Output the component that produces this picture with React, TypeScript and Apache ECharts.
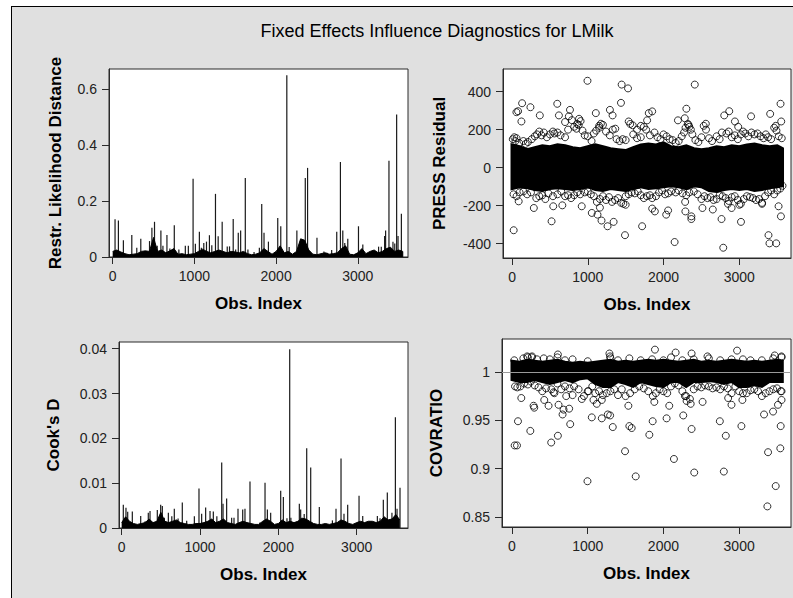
import React, { useEffect, useRef } from "react";
import * as echarts from "echarts";

const TITLE = "Fixed Effects Influence Diagnostics for LMilk";
const X_TICKS = [0, 1000, 2000, 3000];

// Restr. Likelihood Distance: prominent needles
const rldX = [29,70,131,234,295,344,390,451,480,512,545,590,615,664,700,754,810,889,926,984,1012,1061,1085,1115,1148,1184,1213,1258,1291,1340,1402,1430,1475,1505,1537,1566,1623,1655,1730,1795,1824,1852,1906,2020,2057,2131,2160,2254,2305,2357,2385,2500,2585,2622,2680,2742,2787,2816,2840,2877,3008,3061,3254,3287,3328,3340,3381,3430,3452,3475,3492,3533,3549];
const rldY = [0.135,0.131,0.06,0.079,0.033,0.065,0.02,0.057,0.105,0.126,0.04,0.095,0.04,0.079,0.03,0.114,0.027,0.04,0.04,0.28,0.047,0.09,0.033,0.05,0.055,0.078,0.042,0.226,0.074,0.126,0.038,0.038,0.136,0.027,0.087,0.095,0.283,0.027,0.018,0.033,0.19,0.087,0.055,0.14,0.11,0.651,0.036,0.095,0.063,0.283,0.319,0.069,0.02,0.015,0.025,0.09,0.34,0.095,0.05,0.065,0.11,0.045,0.037,0.037,0.075,0.095,0.345,0.055,0.048,0.51,0.075,0.155,0.02];
// dense low band, read every 50 observations
const baseX = [0,50,100,150,200,250,300,350,400,450,500,550,600,650,700,750,800,850,900,950,1000,1050,1100,1150,1200,1250,1300,1350,1400,1450,1500,1550,1600,1650,1700,1750,1800,1850,1900,1950,2000,2050,2100,2150,2200,2250,2300,2350,2400,2450,2500,2550,2600,2650,2700,2750,2800,2850,2900,2950,3000,3050,3100,3150,3200,3250,3300,3350,3400,3450,3500,3550];
const rldBase = [0.02,0.025,0.018,0.012,0.008,0.01,0.012,0.02,0.022,0.02,0.07,0.02,0.025,0.015,0.022,0.03,0.01,0.012,0.008,0.01,0.012,0.02,0.028,0.02,0.015,0.02,0.025,0.02,0.015,0.02,0.018,0.015,0.02,0.012,0.008,0.01,0.015,0.03,0.02,0.01,0.02,0.04,0.015,0.02,0.01,0.02,0.065,0.06,0.025,0.01,0.008,0.012,0.015,0.01,0.012,0.015,0.03,0.04,0.01,0.008,0.015,0.03,0.012,0.02,0.025,0.015,0.02,0.03,0.035,0.02,0.025,0.02];

// Cook's D
const cookX = [21,55,77,136,243,300,340,362,455,498,519,545,596,640,672,720,774,830,928,987,1021,1072,1128,1170,1215,1277,1294,1340,1404,1434,1485,1545,1574,1638,1765,1830,1860,1902,2030,2064,2110,2145,2160,2268,2285,2330,2362,2413,2523,2690,2736,2800,2838,2885,3030,3077,3264,3298,3340,3391,3450,3494,3515,3553];
const cookY = [0.0052,0.0045,0.0036,0.0037,0.0027,0.0015,0.0034,0.0038,0.004,0.0052,0.0049,0.0023,0.0034,0.0026,0.0043,0.0021,0.0057,0.0016,0.0026,0.0088,0.0032,0.0046,0.0038,0.0037,0.0026,0.0146,0.0054,0.0066,0.0023,0.0023,0.0043,0.0041,0.0043,0.0104,0.0012,0.0101,0.0041,0.0034,0.0083,0.0069,0.0022,0.0399,0.0023,0.0054,0.0041,0.0031,0.0178,0.0135,0.0047,0.0017,0.0043,0.0155,0.0032,0.0052,0.0072,0.0027,0.0027,0.0022,0.0063,0.0079,0.0034,0.0247,0.0043,0.009];
const cookBase = [0.0012,0.0025,0.0015,0.001,0.0008,0.001,0.0012,0.002,0.0012,0.0015,0.0035,0.0015,0.0012,0.0015,0.0018,0.0012,0.001,0.0008,0.0008,0.001,0.001,0.0012,0.0015,0.002,0.0012,0.0015,0.002,0.0012,0.001,0.0008,0.0012,0.0015,0.0012,0.001,0.0008,0.0008,0.0015,0.002,0.0015,0.0008,0.001,0.0018,0.0012,0.0015,0.0012,0.0015,0.0022,0.002,0.0015,0.001,0.0008,0.0008,0.001,0.0008,0.001,0.0012,0.0018,0.0015,0.001,0.0008,0.0012,0.0015,0.0012,0.0015,0.0015,0.0012,0.0015,0.0025,0.0018,0.002,0.003,0.0018];

// PRESS residual: dense core envelope every 100 obs
const coreX = [0,100,200,300,400,500,600,700,800,900,1000,1100,1200,1300,1400,1500,1600,1700,1800,1900,2000,2100,2200,2300,2400,2500,2600,2700,2800,2900,3000,3100,3200,3300,3400,3500,3570];
const pressHi = [120,110,95,105,115,110,120,115,105,100,110,120,110,100,95,90,105,120,125,120,130,110,105,115,100,95,100,110,105,115,110,120,125,115,110,115,100];
const pressLo = [-110,-100,-105,-115,-120,-110,-105,-110,-115,-110,-100,-115,-120,-110,-115,-120,-110,-100,-110,-105,-100,-95,-100,-110,-95,-100,-120,-125,-115,-110,-115,-110,-120,-115,-105,-100,-95];
const pressPoints = [
  [133,339],[58,292],[80,297],[124,243],[243,318],[367,275],[597,336],[619,275],[700,240],[765,304],[750,270],[885,257],[860,230],[996,457],[1106,287],[1173,231],[1150,220],[1292,304],[1327,275],[1363,205],[1438,341],[1447,437],[1531,417],[1540,243],[1593,223],[1650,200],[1805,287],[1850,296],[1783,249],[1700,220],[2190,249],[2301,310],[2280,260],[2412,437],[2330,225],[2558,231],[2801,275],[2867,297],[2942,243],[2985,215],[3155,270],[3407,283],[3480,220],[3544,336],[3553,243],
  [22,-329],[88,-177],[288,-212],[522,-282],[544,-203],[664,-198],[920,-203],[1053,-238],[1128,-247],[1160,-210],[1181,-278],[1261,-308],[1341,-285],[1491,-355],[1500,-195],[1717,-308],[1850,-215],[1885,-230],[2035,-247],[2060,-225],[2146,-391],[2285,-180],[2288,-230],[2367,-256],[2367,-270],[2513,-212],[2650,-220],[2765,-270],[2788,-421],[2850,-190],[2898,-212],[3000,-195],[3022,-285],[3300,-190],[3385,-355],[3398,-398],[3487,-398],[3518,-203],[3549,-256],
  [10,150],[30,160],[45,140],[60,155],[95,130],[150,140],[180,125],[210,135],[260,150],[300,165],[330,175],[360,190],[390,170],[420,185],[460,160],[500,175],[540,190],[560,180],[600,185],[640,170],[700,160],[740,200],[790,250],[820,215],[850,205],[880,225],[905,245],[930,195],[960,170],[1000,165],[1050,140],[1080,180],[1110,195],[1150,210],[1200,225],[1240,190],[1290,170],[1330,200],[1380,150],[1420,140],[1460,150],[1500,145],[1560,230],[1600,175],[1650,155],[1700,160],[1740,215],[1770,200],[1820,170],[1880,185],[1920,160],[1960,150],[2000,175],[2040,165],[2080,150],[2120,145],[2160,130],[2200,140],[2240,165],[2270,185],[2290,210],[2320,230],[2340,215],[2360,200],[2380,175],[2420,145],[2460,135],[2500,160],[2530,220],[2560,200],[2600,155],[2640,140],[2700,165],[2740,150],[2770,185],[2830,180],[2860,190],[2900,160],[2940,170],[2980,150],[3020,175],[3050,190],[3080,180],[3120,165],[3160,185],[3200,175],[3240,180],[3280,165],[3320,155],[3350,175],[3380,160],[3420,150],[3460,210],[3490,195],[3520,165],[3560,155],
  [20,-140],[60,-150],[100,-130],[150,-125],[200,-140],[250,-130],[320,-160],[360,-150],[400,-145],[440,-165],[480,-135],[540,-150],[600,-140],[650,-125],[700,-150],[740,-145],[780,-160],[820,-145],[860,-130],[900,-140],[960,-130],[1000,-125],[1040,-140],[1080,-150],[1120,-180],[1160,-165],[1200,-150],[1240,-170],[1280,-155],[1320,-180],[1360,-170],[1400,-160],[1440,-185],[1470,-190],[1500,-150],[1540,-140],[1580,-130],[1620,-135],[1660,-125],[1700,-145],[1740,-160],[1780,-150],[1820,-145],[1850,-160],[1900,-150],[1940,-130],[1980,-120],[2020,-140],[2060,-135],[2100,-125],[2160,-130],[2200,-120],[2250,-135],[2300,-145],[2340,-130],[2400,-125],[2450,-140],[2500,-165],[2540,-150],[2580,-160],[2620,-155],[2660,-170],[2700,-165],[2740,-145],[2780,-150],[2820,-160],[2860,-175],[2900,-155],[2940,-150],[2980,-170],[3020,-190],[3060,-165],[3100,-150],[3140,-155],[3180,-160],[3220,-170],[3260,-165],[3300,-185],[3340,-150],[3380,-130],[3420,-120],[3460,-140],[3500,-120],[3540,-110],[3570,-95]
];

// COVRATIO
const covHi = [1.011,1.01,1.012,1.011,1.01,1.011,1.012,1.01,1.009,1.01,1.009,1.01,1.011,1.012,1.01,1.011,1.01,1.011,1.012,1.011,1.012,1.011,1.01,1.011,1.012,1.01,1.011,1.01,1.011,1.012,1.011,1.01,1.011,1.01,1.011,1.012,1.011];
const covLo = [0.992,0.99,0.99,0.992,0.99,0.988,0.99,0.992,0.99,0.993,0.994,0.988,0.985,0.985,0.99,0.988,0.985,0.99,0.988,0.986,0.985,0.99,0.99,0.985,0.99,0.99,0.991,0.99,0.988,0.99,0.985,0.985,0.987,0.985,0.99,0.99,0.99];
const covPoints = [
  [35,0.924],[66,0.924],[79,0.949],[123,0.973],[242,0.939],[285,0.965],[294,0.963],[426,0.971],[483,0.965],[518,0.927],[549,0.979],[606,0.934],[615,0.966],[668,0.956],[681,0.961],[716,0.975],[755,0.962],[769,0.946],[800,0.976],[922,0.972],[997,0.887],[1010,0.98],[1054,0.953],[1076,0.971],[1120,0.967],[1186,0.971],[1186,0.952],[1265,0.956],[1296,0.955],[1331,0.943],[1493,0.918],[1537,0.965],[1550,0.944],[1581,0.942],[1634,0.892],[1814,0.935],[1858,0.949],[1880,0.969],[2042,0.952],[2077,0.965],[2139,0.91],[2262,0.955],[2284,0.975],[2306,0.97],[2360,0.967],[2372,0.941],[2407,0.896],[2517,0.969],[2745,0.949],[2798,0.897],[2824,0.934],[2855,0.973],[2899,0.966],[3030,0.944],[3043,0.971],[3329,0.956],[3382,0.917],[3373,0.861],[3448,0.959],[3483,0.882],[3513,0.966],[3544,0.921],[3549,0.944],[3560,0.98],[3560,0.971],
  [1888,1.023],[2161,1.02],[2973,1.022],[1287,1.019],[1295,1.016],[606,1.018],[2372,1.019],[200,1.016],[265,1.016],[2582,1.016],[3470,1.017],[3560,1.016],
  [40,0.985],[70,0.984],[110,0.985],[160,0.988],[210,0.987],[250,0.99],[300,0.986],[350,0.984],[400,0.98],[450,0.983],[520,0.982],[560,0.978],[600,0.988],[650,0.982],[700,0.985],[760,0.983],[820,0.985],[880,0.982],[950,0.975],[1000,0.98],[1060,0.985],[1100,0.978],[1150,0.98],[1200,0.976],[1250,0.978],[1300,0.98],[1350,0.982],[1400,0.976],[1450,0.982],[1500,0.975],[1560,0.978],[1620,0.982],[1680,0.985],[1740,0.983],[1800,0.98],[1860,0.975],[1900,0.978],[1950,0.982],[2000,0.98],[2050,0.978],[2100,0.985],[2150,0.988],[2200,0.986],[2250,0.98],[2300,0.975],[2350,0.972],[2400,0.982],[2450,0.985],[2500,0.984],[2550,0.986],[2600,0.985],[2650,0.983],[2700,0.984],[2750,0.982],[2800,0.985],[2850,0.983],[2900,0.978],[2950,0.985],[3000,0.98],[3050,0.978],[3100,0.978],[3150,0.981],[3200,0.982],[3250,0.98],[3300,0.975],[3350,0.978],[3400,0.98],[3450,0.982],[3500,0.983],[3550,0.98],
  [30,1.012],[150,1.014],[210,1.015],[260,1.015],[330,1.013],[420,1.014],[500,1.013],[600,1.015],[700,1.012],[800,1.013],[1000,1.011],[1300,1.014],[1400,1.012],[1550,1.014],[1700,1.012],[1850,1.013],[2000,1.012],[2100,1.015],[2250,1.012],[2400,1.013],[2600,1.014],[2750,1.012],[2900,1.013],[3050,1.013],[3150,1.012],[3300,1.012],[3450,1.014],[3560,1.015]
];

const FONT = "'Liberation Sans', Arial, sans-serif";
const AX = "#2a2a2a";

function xAxisDef(idx: number, min: number, max: number) {
  return {
    type: "value", gridIndex: idx, min, max,
    name: "Obs. Index", nameLocation: "middle", nameGap: 38,
    nameTextStyle: { fontFamily: FONT, fontSize: 17, fontWeight: "bold", color: "#000" },
    axisLine: { show: true, onZero: false, lineStyle: { color: AX, width: 1 } },
    axisTick: { show: true, length: 7, lineStyle: { color: AX }, customValues: X_TICKS },
    axisLabel: { fontFamily: FONT, fontSize: 14, color: "#222", margin: 12, customValues: X_TICKS, formatter: (v: number) => String(v) },
    splitLine: { show: false },
  };
}
function yAxisDef(idx: number, min: number, max: number, name: string, gap: number, ticks: number[]) {
  return {
    type: "value", gridIndex: idx, min, max,
    name, nameLocation: "middle", nameGap: gap, nameRotate: 90,
    nameTextStyle: { fontFamily: FONT, fontSize: 17, fontWeight: "bold", color: "#000" },
    axisLine: { show: true, onZero: false, lineStyle: { color: AX, width: 1 } },
    axisTick: { show: true, length: 7, lineStyle: { color: AX }, customValues: ticks },
    axisLabel: { fontFamily: FONT, fontSize: 14, color: "#222", margin: 12, customValues: ticks, formatter: (v: number) => String(v) },
    splitLine: { show: false },
  };
}

function needles(idx: number, xs: number[], ys: number[]) {
  return {
    type: "custom", xAxisIndex: idx, yAxisIndex: idx, clip: true,
    data: xs.map((x, i) => [x, ys[i]]),
    renderItem: (_p: any, api: any) => {
      const a = api.coord([api.value(0), 0]);
      const b = api.coord([api.value(0), api.value(1)]);
      return { type: "line", shape: { x1: a[0], y1: a[1], x2: b[0], y2: b[1] }, style: { stroke: "#1a1a1a", lineWidth: 1.2 } };
    },
  };
}
function baseArea(idx: number, ys: number[]) {
  return {
    type: "line", xAxisIndex: idx, yAxisIndex: idx, symbol: "none",
    data: baseX.map((x, i) => [x, ys[i]]),
    lineStyle: { color: "#000", width: 1 },
    areaStyle: { color: "#000", opacity: 1 },
  };
}
function core(idx: number, hi: number[], lo: number[]) {
  return {
    type: "custom", xAxisIndex: idx, yAxisIndex: idx, clip: true,
    data: [[0, 0]],
    renderItem: (_p: any, api: any) => {
      const pts: number[][] = [];
      coreX.forEach((x, i) => pts.push(api.coord([x, hi[i]])));
      for (let i = coreX.length - 1; i >= 0; i--) pts.push(api.coord([coreX[i], lo[i]]));
      return { type: "polygon", shape: { points: pts }, style: { fill: "#000", stroke: "#000", lineWidth: 3 } };
    },
  };
}
function circles(idx: number, pts: number[][]) {
  return {
    type: "scatter", xAxisIndex: idx, yAxisIndex: idx, symbol: "circle", symbolSize: 7,
    data: pts,
    itemStyle: { color: "rgba(0,0,0,0)", borderColor: "#000", borderWidth: 1 },
  };
}

export default function App() {
  const ref = useRef<HTMLDivElement>(null);
  useEffect(() => {
    if (!ref.current) return;
    const chart = echarts.init(ref.current, undefined, { renderer: "svg" });
    const gridBase = { show: true, backgroundColor: "#fff", borderColor: AX, borderWidth: 1, containLabel: false };
    chart.setOption({
      animation: false,
      backgroundColor: "transparent",
      graphic: [{
        type: "text", x: 437, y: 31,
        style: { text: TITLE, fontFamily: FONT, fontSize: 18, fill: "#000", textAlign: "center", textVerticalAlign: "middle" },
      }],
      grid: [
        { ...gridBase, left: 109, top: 69, width: 299, height: 188 },
        { ...gridBase, left: 503, top: 69, width: 288, height: 189 },
        { ...gridBase, left: 119, top: 342, width: 289, height: 186 },
        { ...gridBase, left: 502, top: 339, width: 289, height: 188 },
      ],
      xAxis: [
        xAxisDef(0, -45, 3614),
        xAxisDef(1, -119, 3682),
        xAxisDef(2, -34, 3655),
        xAxisDef(3, -132, 3685),
      ],
      yAxis: [
        yAxisDef(0, 0, 0.673, "Restr. Likelihood Distance", 45, [0, 0.2, 0.4, 0.6]),
        yAxisDef(1, -475, 519, "PRESS Residual", 55, [-400, -200, 0, 200, 400]),
        yAxisDef(2, 0, 0.0415, "Cook's D", 57, [0, 0.01, 0.02, 0.03, 0.04]),
        yAxisDef(3, 0.8397, 1.034, "COVRATIO", 57, [0.85, 0.9, 0.95, 1]),
      ],
      series: [
        baseArea(0, rldBase),
        needles(0, rldX, rldY),
        core(1, pressHi, pressLo),
        circles(1, pressPoints),
        baseArea(2, cookBase),
        needles(2, cookX, cookY),
        {
          type: "line", xAxisIndex: 3, yAxisIndex: 3, data: [], silent: true,
          markLine: { silent: true, symbol: "none", label: { show: false }, lineStyle: { color: "#9a9a9a", width: 1, type: "solid" }, data: [{ yAxis: 1 }] },
        },
        core(3, covHi, covLo),
        circles(3, covPoints),
      ],
    });
    return () => chart.dispose();
  }, []);
  return (
    <div style={{ position: "fixed", left: 0, top: 0, width: 793, height: 598, background: "#fff", overflow: "hidden" }}>
      <div style={{ position: "absolute", left: 11, top: 6, width: 900, height: 700, border: "1.5px solid #000", background: "#e0e0e0" }} />
      <div ref={ref} style={{ position: "absolute", left: 0, top: 0, width: 793, height: 598 }} />
    </div>
  );
}
